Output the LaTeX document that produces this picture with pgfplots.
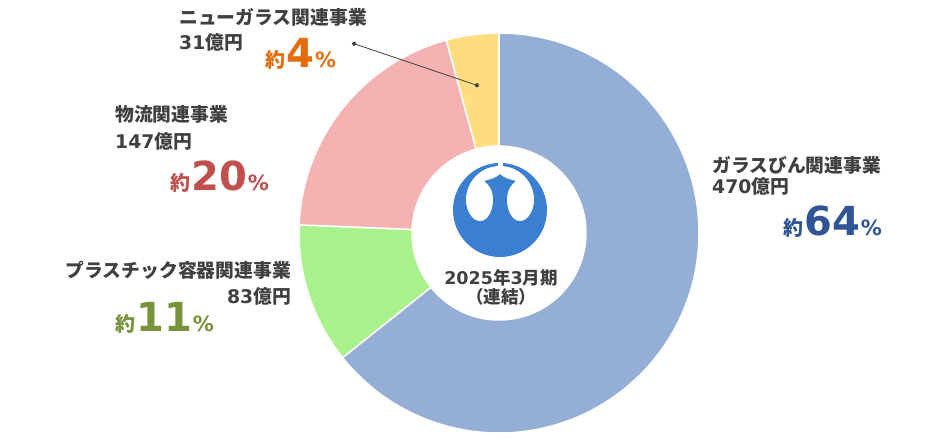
\documentclass[border=0pt]{standalone}
\usepackage{pgfplots}
\pgfplotsset{compat=1.18}
\usepackage{pgfplotstable}
\usetikzlibrary{arrows.meta}
\usepackage{fontspec}
\setmainfont{DejaVu Sans}
\newfontfamily\jp{Noto Sans CJK JP}

\definecolor{txtgray}{HTML}{404040}
\definecolor{segblue}{HTML}{95AED6}
\definecolor{seggreen}{HTML}{A9F18A}
\definecolor{segpink}{HTML}{F4B2B2}
\definecolor{segyellow}{HTML}{FFDD80}
\definecolor{logoblue}{HTML}{3A7FD0}
\definecolor{pctblue}{HTML}{2F5597}
\definecolor{pctred}{HTML}{C0504D}
\definecolor{pctgreen}{HTML}{77933C}
\definecolor{pctorange}{HTML}{E46C0A}

% segment sales, in 100 million yen, clockwise from 12 o'clock
\pgfplotstableread{
seg value
glass 470
plastic 83
logistics 147
newglass 31
}\segtable

\newcommand\seg[3]{%
  \fill[#1, draw=white, line width=1.5pt] (499,207) ++(#2:200pt)
    arc[start angle=#2, end angle=#3, radius=200pt]
    -- ++({#3+180}:113pt)
    arc[start angle=#3, end angle=#2, radius=87pt] -- cycle;}
\newcommand\lab[1]{{\fontsize{18.8}{22}\selectfont\bfseries #1}}
\newcommand\pct[1]{{\bfseries{\jp\fontsize{20}{24}\selectfont 約}\kern1pt{\fontsize{40}{42}\selectfont #1}\kern1pt{\fontsize{21}{24}\selectfont\%}}}

\begin{document}
\begin{tikzpicture}
\pgfplotstablegetelem{0}{value}\of\segtable\pgfmathsetmacro\vA{\pgfplotsretval}
\pgfplotstablegetelem{1}{value}\of\segtable\pgfmathsetmacro\vB{\pgfplotsretval}
\pgfplotstablegetelem{2}{value}\of\segtable\pgfmathsetmacro\vC{\pgfplotsretval}
\pgfplotstablegetelem{3}{value}\of\segtable\pgfmathsetmacro\vD{\pgfplotsretval}
\pgfmathsetmacro\tot{\vA+\vB+\vC+\vD}
\pgfmathsetmacro\aA{90-360*(\vA/\tot)}
\pgfmathsetmacro\aB{\aA-360*(\vB/\tot)}
\pgfmathsetmacro\aC{\aB-360*(\vC/\tot)}
\pgfmathsetmacro\aD{\aC-360*(\vD/\tot)}
\begin{axis}[
    hide axis,
    x=1pt, y=1pt,
    xmin=0, xmax=950,
    ymin=0, ymax=440,
    scale only axis,
    clip=false
]
\path (0,0) (950,440);
\seg{segblue}{90}{\aA}
\seg{seggreen}{\aA}{\aB}
\seg{segpink}{\aB}{\aC}
\seg{segyellow}{\aC}{\aD}

% logo
\begin{scope}[shift={(axis cs:500,230)}]
  \fill[logoblue] (0pt,0pt) circle[radius=47pt];
  \fill[white] (0pt,44pt) arc[start angle=90, end angle=180, radius=34pt]
    .. controls (-34pt,0pt) and (-28pt,-11pt) .. (-20pt,-11pt)
    .. controls (-12pt,-11pt) and (-7pt,0pt) .. (-7pt,10pt)
    .. controls (-7pt,20pt) and (-11pt,25pt) .. (-16pt,29pt)
    .. controls (-8pt,31pt) and (-3pt,33pt) .. (0pt,36pt)
    .. controls (3pt,33pt) and (8pt,31pt) .. (16pt,29pt)
    .. controls (11pt,25pt) and (7pt,20pt) .. (7pt,10pt)
    .. controls (7pt,0pt) and (12pt,-11pt) .. (20pt,-11pt)
    .. controls (28pt,-11pt) and (34pt,0pt) .. (34pt,10pt)
    arc[start angle=0, end angle=90, radius=34pt] -- cycle;
  \fill[white] (-2.5pt,41pt) rectangle (2.5pt,48pt);
\end{scope}

\node[anchor=base, text=txtgray, inner sep=0pt] at (501,156)
  {\fontsize{17.5}{20}\selectfont\bfseries 2025{\jp 年}3{\jp 月期}};
\node[anchor=base, text=txtgray, inner sep=0pt] at (501,137)
  {\fontsize{17.5}{20}\selectfont\bfseries{\jp （連結）}};

% leader line for the small segment
\draw[txtgray, line width=0.8pt, {Circle[length=4.5pt]}-{Circle[length=4.5pt]}]
  (352,397) -- (479,354);

% labels
\node[anchor=base west, text=txtgray, inner sep=0pt] at (179,415) {\lab{\jp ニューガラス関連事業}};
\node[anchor=base west, text=txtgray, inner sep=0pt] at (179,390) {\lab{31{\jp 億円}}};
\node[anchor=base west, text=pctorange, inner sep=0pt] at (265,372) {\pct{4}};

\node[anchor=base west, text=txtgray, inner sep=0pt] at (115,319) {\lab{\jp 物流関連事業}};
\node[anchor=base west, text=txtgray, inner sep=0pt] at (115,292) {\lab{147{\jp 億円}}};
\node[anchor=base west, text=pctred, inner sep=0pt] at (170,250) {\pct{20}};

\node[anchor=base east, text=txtgray, inner sep=0pt] at (291,163) {\lab{\jp プラスチック容器関連事業}};
\node[anchor=base east, text=txtgray, inner sep=0pt] at (291,137) {\lab{83{\jp 億円}}};
\node[anchor=base west, text=pctgreen, inner sep=0pt] at (115,109) {\pct{11}};

\node[anchor=base west, text=txtgray, inner sep=0pt] at (712,268) {\lab{\jp ガラスびん関連事業}};
\node[anchor=base west, text=txtgray, inner sep=0pt] at (712,247) {\lab{470{\jp 億円}}};
\node[anchor=base west, text=pctblue, inner sep=0pt] at (783,205) {\pct{64}};
\end{axis}
\end{tikzpicture}
\end{document}
